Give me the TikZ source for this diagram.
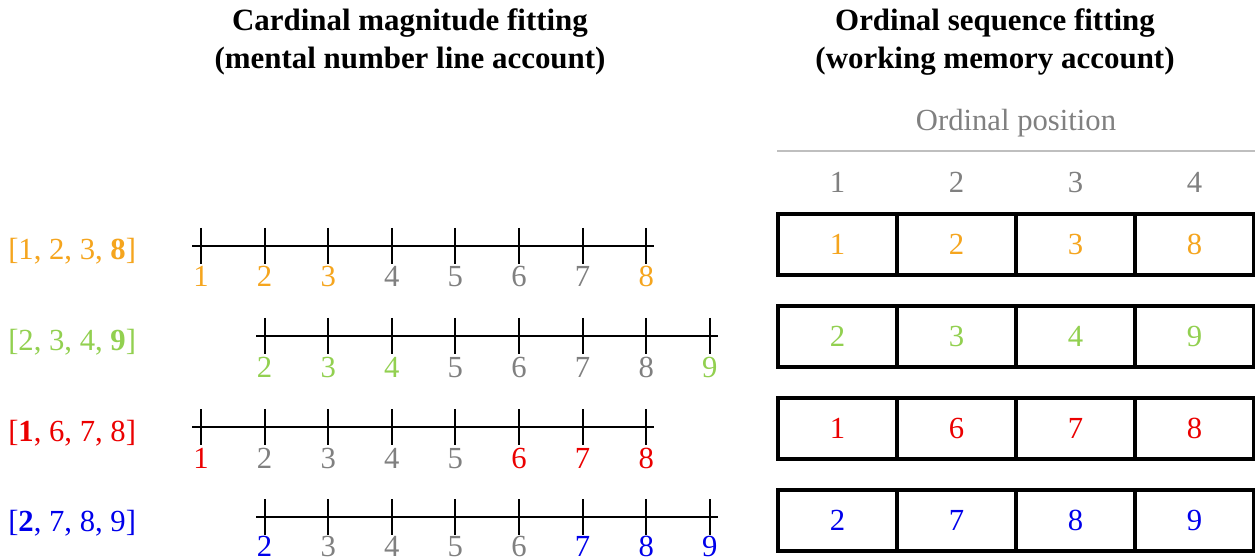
\documentclass[tikz,border=0pt]{standalone}
\usepackage{fontspec}
\setmainfont{Liberation Serif}
\definecolor{cOr}{RGB}{245,165,30}
\definecolor{cGr}{RGB}{146,208,80}
\definecolor{cRd}{RGB}{235,0,0}
\definecolor{cBl}{RGB}{0,0,235}
\definecolor{cGy}{RGB}{128,128,128}
\definecolor{cLg}{RGB}{191,191,191}
\begin{document}
\begin{tikzpicture}[x=0.75pt,y=-0.75pt,
  txt/.style={font=\fontsize{23}{27}\selectfont, inner sep=0pt},
  ttl/.style={font=\fontsize{23.2}{27}\selectfont\bfseries, inner sep=0pt, anchor=base},
  nline/.style={line width=1.5pt, black},
  cell/.style={draw, line width=2.5pt, minimum width=89.25pt, minimum height=45.75pt, inner sep=0pt, font=\fontsize{23}{27}\selectfont}]
\useasboundingbox[fill=white] (0,0) rectangle (1255,559);

% titles
\node[ttl] (tl1) at (410,31) {Cardinal magnitude fitting};
\node[ttl] (tl2) at (410,69) {(mental number line account)};
\node[ttl] (tr1) at (995,31) {Ordinal sequence fitting};
\node[ttl] (tr2) at (995,69) {(working memory account)};

% ordinal position header
\node[txt, anchor=base, text=cGy] (op) at (1016,131) {Ordinal position};
\coordinate (gl1) at (777,151);
\coordinate (gl2) at (1255,151);
\draw[cLg, line width=1.6pt] (gl1) -- (gl2);
\foreach \c in {1,...,4}{
  \pgfmathsetmacro\hx{837.5+119*(\c-1)}
  \node[txt, anchor=base, text=cGy] (h\c) at (\hx,193) {\c};
}

% left labels
\node[txt, anchor=base west, text=cOr] (L1) at (8,260) {[1, 2, 3, \textbf{8}]};
\node[txt, anchor=base west, text=cGr] (L2) at (8,350) {[2, 3, 4, \textbf{9}]};
\node[txt, anchor=base west, text=cRd] (L3) at (8,441) {[\textbf{1}, 6, 7, 8]};
\node[txt, anchor=base west, text=cBl] (L4) at (8,531) {[\textbf{2}, 7, 8, 9]};

% number lines
\coordinate (a1) at (192,246); \coordinate (b1) at (654,246);
\coordinate (a2) at (256,336); \coordinate (b2) at (718,336);
\coordinate (a3) at (192,427); \coordinate (b3) at (654,427);
\coordinate (a4) at (256,517); \coordinate (b4) at (718,517);
\foreach \r in {1,...,4}{ \draw[nline] (a\r) -- (b\r); }

\foreach \r/\ly/\lo/\lst in {
  1/246/41/{1/cOr,2/cOr,3/cOr,4/cGy,5/cGy,6/cGy,7/cGy,8/cOr},
  2/336/41/{2/cGr,3/cGr,4/cGr,5/cGy,6/cGy,7/cGy,8/cGy,9/cGr},
  3/427/41/{1/cRd,2/cGy,3/cGy,4/cGy,5/cGy,6/cRd,7/cRd,8/cRd},
  4/517/39/{2/cBl,3/cGy,4/cGy,5/cGy,6/cGy,7/cBl,8/cBl,9/cBl}}{
  \foreach \n/\col in \lst {
    \pgfmathsetmacro\tx{201+63.6*(\n-1)}
    \draw[nline] (\tx,\ly-18) -- (\tx,\ly+18);
    \node[txt, anchor=base, text=\col] (r\r n\n) at (\tx,\ly+\lo) {\n};
  }
}

% boxes
\foreach \r/\top/\col/\lst in {
  1/214/cOr/{1,2,3,8},
  2/306/cGr/{2,3,4,9},
  3/398/cRd/{1,6,7,8},
  4/490/cBl/{2,7,8,9}}{
  \foreach \v [count=\c] in \lst {
    \pgfmathsetmacro\cx{837.5+119*(\c-1)}
    \node[cell, text=\col] (b\r c\c) at (\cx,\top+30.5) {\v};
  }
}
\end{tikzpicture}
\end{document}
